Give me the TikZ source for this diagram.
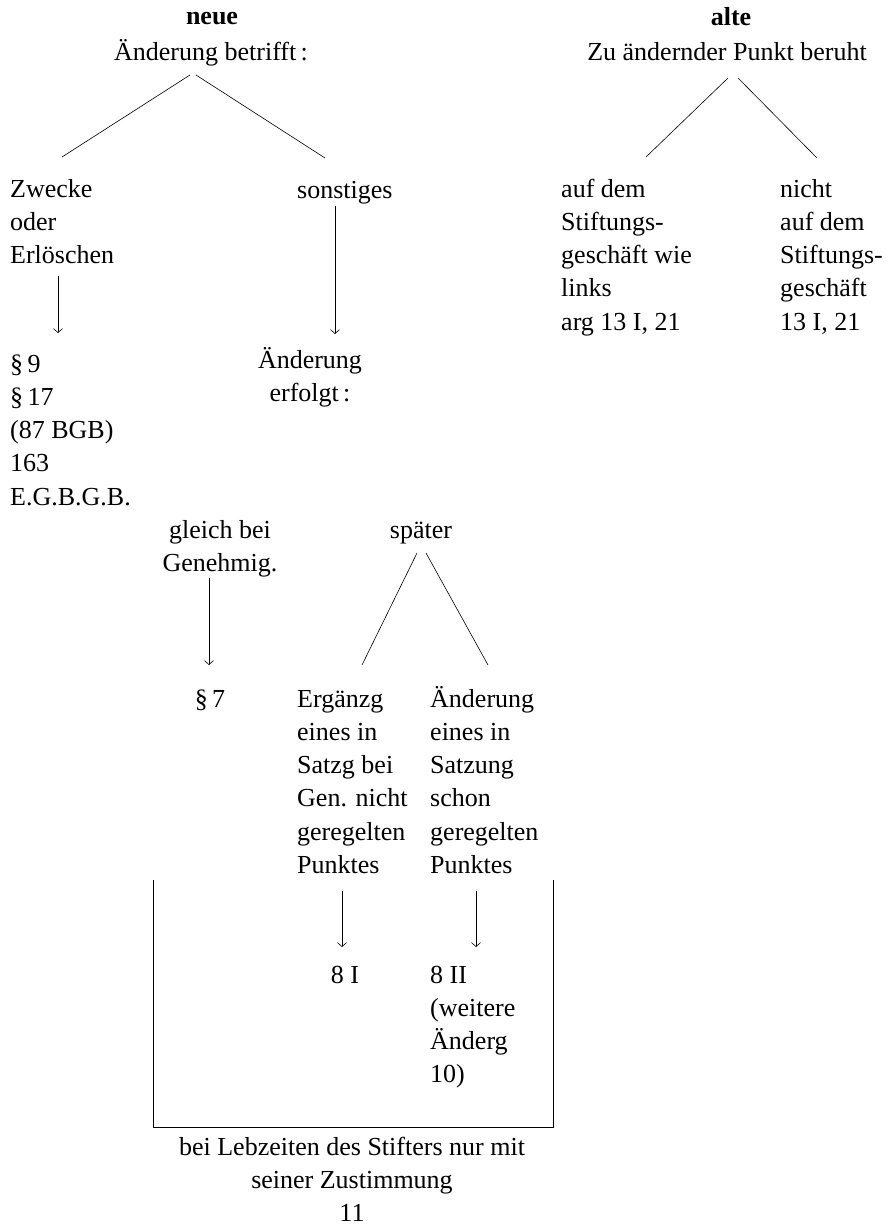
\documentclass[tikz,border=0pt]{standalone}
\usepackage{fontspec}
\setmainfont{Liberation Serif}
\usetikzlibrary{arrows.meta}
\newcommand\tabL[1]{\begin{tabular}[t]{@{}l@{}}#1\end{tabular}}
\newcommand\tabC[1]{\begin{tabular}[t]{@{}c@{}}#1\end{tabular}}
\begin{document}
\begin{tikzpicture}[x=1pt,y=-1pt,
  txt/.style={inner sep=0pt, font=\fontsize{26}{33.3}\selectfont},
  lft/.style={txt, anchor=base west},
  ctr/.style={txt, anchor=base},
  ln/.style={line width=0.6pt},
  arr/.style={ln, -{Straight Barb[length=4pt,width=9pt]}}]
\useasboundingbox (0,0) rectangle (890,1225);

% ---------- left tree: neue ----------
\node[ctr, font=\fontsize{26}{33.3}\selectfont\bfseries] (neue) at (212,25) {neue};
\node[ctr] (betr) at (211,61) {Änderung betrifft\,:};
\node[lft] (zweck) at (10,197) {\tabL{Zwecke\\oder\\Erlöschen}};
\node[lft] (sonst) at (297,198) {sonstiges};
\node[lft] (para) at (10,372) {\tabL{§\,9\\§\,17\\(87 BGB)\\163\\E.G.B.G.B.}};
\node[ctr] (erf) at (310,368) {\tabC{Änderung\\erfolgt\,:}};
\node[ctr] (gleich) at (220,538) {\tabC{gleich bei\\Genehmig.}};
\node[ctr] (spaet) at (421,538) {später};
\node[ctr] (p7) at (210,707) {§\,7};
\node[lft] (ergz) at (297,707) {\tabL{Ergänzg\\eines in\\Satzg bei\\Gen. nicht\\geregelten\\Punktes}};
\node[lft] (aend) at (430,707) {\tabL{Änderung\\eines in\\Satzung\\schon\\geregelten\\Punktes}};
\node[ctr] (acht1) at (345,983) {8 I};
\node[lft] (acht2) at (430,983) {\tabL{8 II\\(weitere\\Änderg\\10)}};
\node[ctr] (lebz) at (352,1155) {\tabC{bei Lebzeiten des Stifters nur mit\\seiner Zustimmung\\11}};

% ---------- right tree: alte ----------
\node[ctr, font=\fontsize{26}{33.3}\selectfont\bfseries] (alte) at (731,26) {alte};
\node[ctr] (punkt) at (727,61) {Zu ändernder Punkt beruht};
\node[lft] (auf) at (561,197) {\tabL{auf dem\\Stiftungs-\\geschäft wie\\links\\arg 13 I, 21}};
\node[lft] (nicht) at (780,197) {\tabL{nicht\\auf dem\\Stiftungs-\\geschäft\\13 I, 21}};

% ---------- connector end points ----------
\coordinate (b1) at (190,75);  \coordinate (z1) at (62,157);
\coordinate (b2) at (196,75);  \coordinate (s1) at (325,158);
\coordinate (a1) at (58,276);  \coordinate (a1e) at (58,333);
\coordinate (a2) at (335,206); \coordinate (a2e) at (335,334);
\coordinate (a3) at (209,578); \coordinate (a3e) at (209,665);
\coordinate (sp1) at (417,553); \coordinate (e1) at (362,665);
\coordinate (sp2) at (426,553); \coordinate (e2) at (488,665);
\coordinate (a4) at (342,891); \coordinate (a4e) at (342,947);
\coordinate (a5) at (476,891); \coordinate (a5e) at (476,947);
\coordinate (k1) at (153,880); \coordinate (k2) at (153,1127);
\coordinate (k3) at (553,1127); \coordinate (k4) at (553,880);
\coordinate (p1) at (728,78);  \coordinate (au1) at (646,157);
\coordinate (p2) at (738,78);  \coordinate (ni1) at (817,158);

% ---------- connectors ----------
\draw[ln] (b1) -- (z1);
\draw[ln] (b2) -- (s1);
\draw[arr] (a1) -- (a1e);
\draw[arr] (a2) -- (a2e);
\draw[arr] (a3) -- (a3e);
\draw[ln] (sp1) -- (e1);
\draw[ln] (sp2) -- (e2);
\draw[arr] (a4) -- (a4e);
\draw[arr] (a5) -- (a5e);
\draw[ln] (k1) -- (k2) -- (k3) -- (k4);
\draw[ln] (p1) -- (au1);
\draw[ln] (p2) -- (ni1);
\end{tikzpicture}
\end{document}
